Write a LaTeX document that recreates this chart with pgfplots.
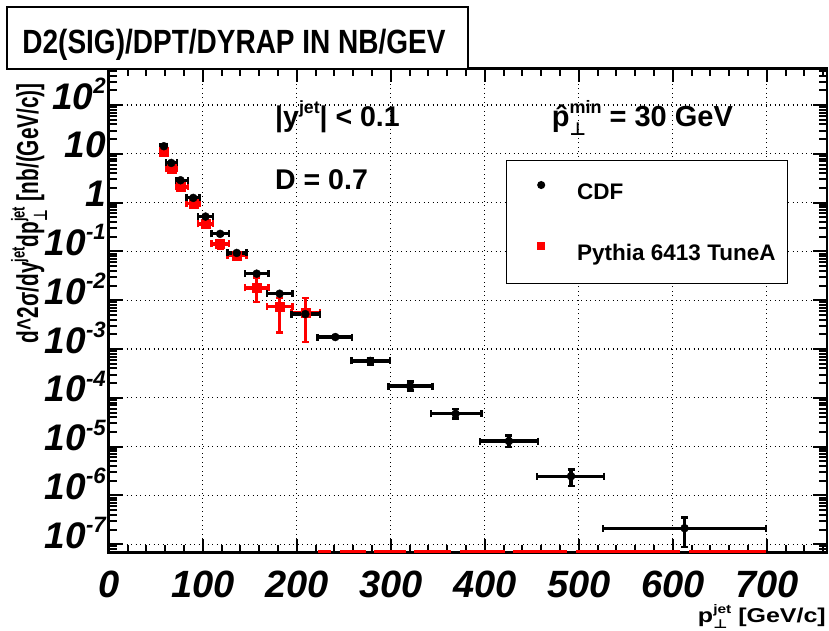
\documentclass[border=0pt]{standalone}
\usepackage{pgfplots}
\pgfplotsset{compat=1.18}
\usepackage{fontspec}
\usepackage{graphicx}
\setmainfont{Liberation Sans}
\newfontfamily\dejavu{DejaVu Sans}
\newcommand\sps[1]{\raisebox{0.45em}{\scalebox{0.62}{#1}}}
\newcommand\sbs[1]{\raisebox{-0.3em}{\scalebox{0.62}{#1}}}
\newcommand\tsp[1]{\raisebox{0.42em}{\scalebox{0.6}{#1}}}
\newcommand\perpsym{{\dejavu\bfseries ⊥}}

\pgfplotstableread{
x y exm exp eym eyp
58.7 14.3 3.5 3.5 0.4 0.4
66.5 6.5 5.3 6.0 0.15 0.15
76.4 2.87 4.5 7.8 0.06 0.06
89.9 1.25 7.4 6.7 0.025 0.025
103 0.518 7.8 8.1 0.01 0.01
118.5 0.229 9.2 9.2 0.005 0.005
136.2 0.093 9.9 10.6 0.002 0.002
157.4 0.035 12.3 12.8 0.0008 0.0008
181.8 0.0136 13.3 13.8 0.0003 0.0003
209.1 0.0052 14.8 15.6 0.00015 0.00015
241 0.00176 18.8 18 0.00006 0.00006
278.1 0.00057 20.1 20.9 0.00009 0.00009
320.6 0.000174 23 23.7 0.000033 0.000041
369 0.000047 26.4 27.3 0.0000094 0.000012
425.7 0.000013 30.7 30.9 0.0000031 0.0000041
491.8 0.00000248 36 34.8 0.00000093 0.00000091
612.5 0.000000213 87 86.8 0.000000125 0.000000136
}\cdf

\pgfplotstableread{
x y exm exp eym eyp
58.7 11.3 3.5 3.5 0.9 0.9
66.5 4.9 5.3 6.0 0.4 0.4
76.4 2.1 4.5 7.8 0.17 0.17
89.9 0.95 7.4 6.7 0.08 0.08
103 0.366 7.8 8.1 0.03 0.03
118.5 0.143 9.2 9.2 0.03 0.03
136.2 0.083 9.9 10.6 0.015 0.015
157.4 0.0178 12.3 12.8 0.0087 0.0117
181.8 0.0075 13.3 13.8 0.0053 0.0036
209.1 0.0055 14.8 15.6 0.0041 0.0056
}\pythia

\begin{document}
\begin{tikzpicture}
\useasboundingbox (-108.7pt,-77.3pt) rectangle (720.3pt,552.7pt);
\begin{axis}[
  scale only axis, width=718.3pt, height=484.2pt,
  xmin=0, xmax=764, ymode=log, ymin=6.7e-8, ymax=560,
  axis line style={line width=2.5pt},
  every tick/.style={black, line width=2pt},
  major tick length=14pt, minor tick length=8pt,
  tick align=inside, tick pos=both,
  xtick={0,100,200,300,400,500,600,700},
  xticklabels={0,100,200,300,400,500,600,700},
  minor xtick={0,20,...,760},
  ytick={1e-7,1e-6,1e-5,1e-4,1e-3,1e-2,1e-1,1,10,100},
  yticklabels={10\tsp{-7},10\tsp{-6},10\tsp{-5},10\tsp{-4},10\tsp{-3},10\tsp{-2},10\tsp{-1},1,10,10\tsp{2}},
  minor ytick={7e-8,8e-8,9e-8,
    2e-7,3e-7,4e-7,5e-7,6e-7,7e-7,8e-7,9e-7,
    2e-6,3e-6,4e-6,5e-6,6e-6,7e-6,8e-6,9e-6,
    2e-5,3e-5,4e-5,5e-5,6e-5,7e-5,8e-5,9e-5,
    2e-4,3e-4,4e-4,5e-4,6e-4,7e-4,8e-4,9e-4,
    2e-3,3e-3,4e-3,5e-3,6e-3,7e-3,8e-3,9e-3,
    2e-2,3e-2,4e-2,5e-2,6e-2,7e-2,8e-2,9e-2,
    2e-1,3e-1,4e-1,5e-1,6e-1,7e-1,8e-1,9e-1,
    2,3,4,5,6,7,8,9,20,30,40,50,60,70,80,90,200,300,400,500},
  grid=major,
  major grid style={black, line width=1.2pt, dash pattern=on 1.2pt off 3.3pt},
  xticklabel style={font=\fontsize{38}{38}\selectfont\bfseries\itshape, anchor=base, inner sep=0pt, yshift=-44.5pt},
  yticklabel style={font=\fontsize{37}{37}\selectfont\bfseries\itshape, anchor=base east, inner sep=0pt, xshift=-2.7pt, yshift=-4pt},
  reverse legend,
  legend style={at={(0.5527,0.811)}, anchor=north west, draw=black, line width=1pt, fill=white,
    font=\fontsize{22.5}{24}\selectfont\bfseries, inner xsep=12pt, inner ysep=21pt,
    nodes={inner sep=0pt}, row sep=41pt, column sep=29pt},
  legend cell align=left,
  legend image code/.code={\path[draw=none] (0pt,0pt) rectangle (30pt,1pt); \draw[#1, mark size=3.5pt] plot coordinates {(23pt,7.7pt)};},
  unbounded coords=jump,
]
% Pythia points below the axis range: only their horizontal bars show at the bottom edge
\addplot[red, line width=4pt, forget plot] coordinates {
 (222.2,6.9e-8) (236.5,6.9e-8) (nan,nan)
 (245.5,6.9e-8) (259,6.9e-8) (nan,nan)
 (258,6.9e-8) (273.5,6.9e-8) (nan,nan)
 (282.5,6.9e-8) (299,6.9e-8) (nan,nan)
 (297.6,6.9e-8) (316,6.9e-8) (nan,nan)
 (325,6.9e-8) (344.3,6.9e-8) (nan,nan)
 (342.6,6.9e-8) (364.5,6.9e-8) (nan,nan)
 (373.5,6.9e-8) (396.3,6.9e-8) (nan,nan)
 (395,6.9e-8) (421,6.9e-8) (nan,nan)
 (430.5,6.9e-8) (456.6,6.9e-8) (nan,nan)
 (455.8,6.9e-8) (487,6.9e-8) (nan,nan)
 (496.5,6.9e-8) (526.6,6.9e-8) (nan,nan)
 (525.5,6.9e-8) (607.5,6.9e-8) (nan,nan)
 (617.5,6.9e-8) (699.3,6.9e-8)
};
\addplot[red, only marks, mark=square*, mark size=4.5pt,
  error bars/.cd, x dir=both, x explicit, y dir=both, y explicit,
  error bar style={red, line width=3.5pt},
  error mark options={rotate=90, red, mark size=3.5pt, line width=2.5pt}]
  table[x=x, y=y, x error minus=exm, x error plus=exp, y error minus=eym, y error plus=eyp] {\pythia};
\addlegendentry{Pythia 6413 TuneA}
\addplot[black, only marks, mark=*, mark size=4pt,
  error bars/.cd, x dir=both, x explicit, y dir=both, y explicit,
  error bar style={black, line width=3.2pt},
  error mark options={rotate=90, black, mark size=3.5pt, line width=2.5pt}]
  table[x=x, y=y, x error minus=exm, x error plus=exp, y error minus=eym, y error plus=eyp] {\cdf};
\addlegendentry{CDF}
\end{axis}
% title box
\draw[fill=white, line width=1.3pt] (-101.7pt,483.7pt) rectangle (359.3pt,545.7pt);
\node[anchor=base, inner sep=0pt] at (125.3pt,498.7pt) {\scalebox{1}[1.2]{\fontsize{28}{30}\selectfont\bfseries D2(SIG)/DPT/DYRAP IN NB/GEV}};
% annotations
\node[anchor=base west, inner sep=0pt] at (166.3pt,426pt) {\fontsize{28.5}{30}\selectfont\bfseries |y\sps{jet}| < 0.1};
\node[anchor=base west, inner sep=0pt] at (166.3pt,362.7pt) {\fontsize{28.5}{30}\selectfont\bfseries D = 0.7};
\node[anchor=base west, inner sep=0pt] at (443pt,426pt) {\fontsize{29}{30}\selectfont\bfseries \^{p}\rlap{\sbs{\perpsym}}\sps{min} = 30 GeV};
% axis titles
\node[anchor=base east, rotate=90, inner sep=0pt] at (-70.5pt,469.7pt) {\scalebox{1}[1.45]{\fontsize{20.8}{22}\selectfont\bfseries d\textasciicircum 2σ/dy\sps{jet}dp\rlap{\sbs{\perpsym}}\sps{jet} [nb/(GeV/c)]}};
\node[anchor=base east, inner sep=0pt] at (717.3pt,-69.5pt) {\scalebox{1.25}[1]{\fontsize{20}{21}\selectfont\bfseries p\rlap{\sbs{\perpsym}}\sps{jet} [GeV/c]}};
\end{tikzpicture}
\end{document}
